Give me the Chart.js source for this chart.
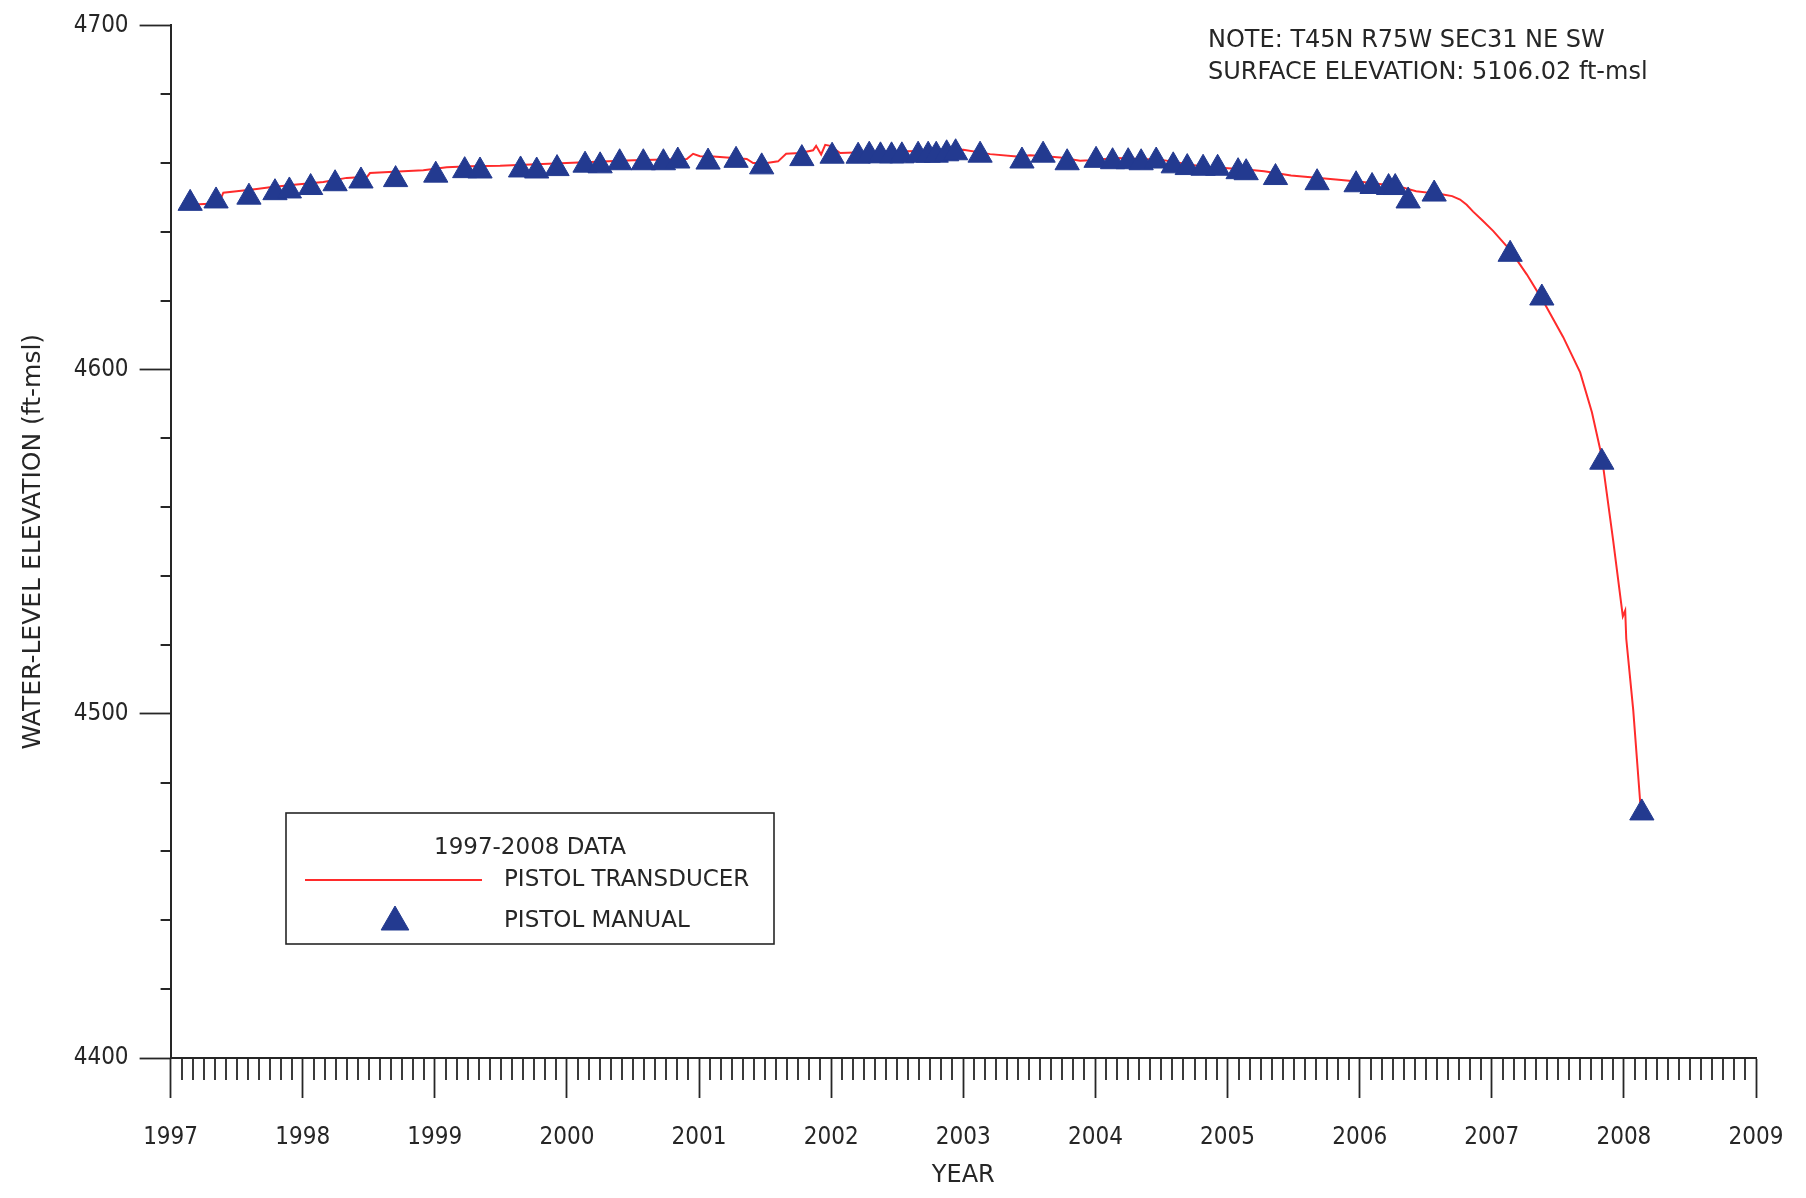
<!DOCTYPE html>
<html>
<head>
<meta charset="utf-8">
<title>Pistol well water-level elevation, 1997-2008</title>
<script src="https://cdn.jsdelivr.net/npm/chart.js@4.4.1/dist/chart.umd.min.js"></script>
<style>
  html, body { margin: 0; padding: 0; background: #ffffff; }
  #wrap { width: 1806px; height: 1198px; }
</style>
</head>
<body>
<div id="wrap"><canvas id="chart" width="1806" height="1198"></canvas></div>
<script>
// Manual (steel tape) measurements: decimal year and water-level elevation (ft-msl)
const manualYears = [
  1997.148, 1997.344, 1997.593, 1997.790, 1997.899, 1998.060, 1998.245, 1998.441,
  1998.703, 1999.007, 1999.226, 1999.342, 1999.649, 1999.771, 1999.925, 2000.137,
  2000.251, 2000.399, 2000.578, 2000.730, 2000.839, 2001.068, 2001.280, 2001.474,
  2001.778, 2002.007, 2002.204, 2002.288, 2002.373, 2002.457, 2002.535, 2002.658,
  2002.734, 2002.795, 2002.874, 2002.942, 2003.127, 2003.444, 2003.604, 2003.786,
  2004.005, 2004.130, 2004.248, 2004.346, 2004.460, 2004.589, 2004.695, 2004.815,
  2004.925, 2005.080, 2005.141, 2005.363, 2005.678, 2005.973, 2006.094, 2006.219,
  2006.269, 2006.367, 2006.564, 2007.139, 2007.379, 2007.833, 2008.136
];
const manualLevels = [
  4648.3, 4649.0, 4650.1, 4651.4, 4651.9, 4652.9, 4654.0, 4654.8,
  4655.2, 4656.5, 4657.8, 4657.7, 4658.0, 4657.7, 4658.4, 4659.4,
  4659.2, 4660.1, 4660.1, 4660.1, 4660.6, 4660.3, 4660.8, 4658.9,
  4661.3, 4662.0, 4662.0, 4662.3, 4662.1, 4662.1, 4662.1, 4662.3,
  4662.3, 4662.3, 4662.7, 4663.0, 4662.3, 4660.6, 4662.3, 4660.1,
  4660.8, 4660.4, 4660.4, 4660.1, 4660.6, 4659.2, 4658.7, 4658.5,
  4658.5, 4657.5, 4657.2, 4655.8, 4654.3, 4653.7, 4653.2, 4652.9,
  4652.9, 4649.0, 4651.0, 4633.5, 4620.8, 4573.1, 4471.2
];

// Pressure transducer record: decimal year and water-level elevation (ft-msl)
const transducerYears = [
  1997.180, 1997.366, 1997.399, 1997.500, 1997.652, 1997.752, 1997.955, 1998.156,
  1998.333, 1998.487, 1998.509, 1998.762, 1998.913, 1999.090, 1999.267, 1999.494,
  1999.998, 2000.503, 2000.907, 2000.955, 2001.007, 2001.108, 2001.361, 2001.409,
  2001.513, 2001.598, 2001.659, 2001.765, 2001.863, 2001.886, 2001.924, 2001.955,
  2001.992, 2002.068, 2002.295, 2002.673, 2003.001, 2003.203, 2003.405, 2003.506,
  2003.619, 2003.733, 2003.884, 2003.960, 2004.162, 2004.490, 2004.806, 2005.144,
  2005.277, 2005.481, 2005.820, 2006.023, 2006.291, 2006.427, 2006.563, 2006.631,
  2006.700, 2006.760, 2006.810, 2006.859, 2006.930, 2007.010, 2007.139, 2007.266,
  2007.389, 2007.540, 2007.669, 2007.758, 2007.833, 2007.919, 2007.992, 2008.010,
  2008.018, 2008.071, 2008.124
];
const transducerLevels = [
  4648.0, 4648.3, 4651.4, 4651.8, 4652.5, 4653.0, 4653.8, 4654.5,
  4655.7, 4656.0, 4657.1, 4657.6, 4657.9, 4658.8, 4659.1, 4659.2,
  4660.0, 4660.8, 4661.2, 4662.7, 4662.0, 4661.9, 4661.2, 4660.0,
  4660.0, 4660.5, 4662.7, 4662.9, 4663.7, 4665.0, 4662.5, 4665.3,
  4665.0, 4662.9, 4663.2, 4663.5, 4663.9, 4662.6, 4661.9, 4662.3,
  4662.0, 4661.6, 4660.7, 4660.8, 4661.5, 4661.0, 4659.0, 4658.1,
  4657.6, 4656.4, 4655.2, 4654.5, 4653.3, 4651.8, 4651.2, 4650.9,
  4650.4, 4649.4, 4647.9, 4645.9, 4643.3, 4640.3, 4634.7, 4627.6,
  4619.9, 4609.5, 4599.2, 4587.6, 4574.7, 4550.3, 4528.3, 4530.0,
  4521.8, 4501.0, 4474.0
];

// Axis ranges and tick spacing
const yearMin = 1997, yearMax = 2009, yearStep = 1, monthsPerYear = 12;
const levelMin = 4400, levelMax = 4700, levelStep = 100, levelMinorStep = 20;

// Text
const xTitle = 'YEAR';
const yTitle = 'WATER-LEVEL ELEVATION (ft-msl)';
const noteLines = ['NOTE: T45N R75W SEC31 NE SW', 'SURFACE ELEVATION: 5106.02 ft-msl'];
const legendTitle = '1997-2008 DATA';
const transducerLabel = 'PISTOL TRANSDUCER';
const manualLabel = 'PISTOL MANUAL';

const NUM_FONT = '"DejaVu Sans Condensed", "DejaVu Sans", sans-serif';
const TEXT_FONT = '"DejaVu Sans", sans-serif';
const INK = '#262626';
const RED = '#ff2b2b';
const NAVY = '#233a90';

const manualPoints = manualYears.map((x, i) => ({ x, y: manualLevels[i] }));
const transducerPoints = transducerYears.map((x, i) => ({ x, y: transducerLevels[i] }));

// Short unlabelled ticks: monthly on the year axis, every 20 ft on the elevation axis
const minorTicks = {
  id: 'minorTicks',
  afterDraw(chart) {
    const { ctx, scales: { x, y } } = chart;
    ctx.save();
    ctx.strokeStyle = INK;
    ctx.lineWidth = 1.8;
    ctx.beginPath();
    const months = (yearMax - yearMin) * monthsPerYear;
    for (let m = 1; m < months; m++) {
      if (m % monthsPerYear === 0) continue;
      const px = Math.round(x.getPixelForValue(yearMin + m / monthsPerYear));
      ctx.moveTo(px, y.bottom);
      ctx.lineTo(px, y.bottom + 22);
    }
    for (let v = levelMin + levelMinorStep; v < levelMax; v += levelMinorStep) {
      if (v % levelStep === 0) continue;
      const py = Math.round(y.getPixelForValue(v));
      ctx.moveTo(x.left, py);
      ctx.lineTo(x.left - 10, py);
    }
    ctx.stroke();
    ctx.restore();
  }
};

// Location note in the upper right
const notePlugin = {
  id: 'noteText',
  afterDraw(chart) {
    const { ctx } = chart;
    ctx.save();
    ctx.fillStyle = INK;
    ctx.font = '24px ' + TEXT_FONT;
    ctx.textAlign = 'left';
    ctx.textBaseline = 'middle';
    ctx.fillText(noteLines[0], 1208, 41);
    ctx.fillText(noteLines[1], 1208, 73);
    ctx.restore();
  }
};

// Boxed legend in the lower left of the plot
const boxLegend = {
  id: 'boxLegend',
  afterDraw(chart) {
    const { ctx } = chart;
    const pts = chart.data.datasets[0];
    const line = chart.data.datasets[1];
    ctx.save();
    ctx.fillStyle = '#ffffff';
    ctx.fillRect(286, 813, 488, 131);
    ctx.strokeStyle = INK;
    ctx.lineWidth = 1.6;
    ctx.strokeRect(286, 813, 488, 131);

    ctx.fillStyle = INK;
    ctx.font = '23px ' + TEXT_FONT;
    ctx.textBaseline = 'middle';
    ctx.textAlign = 'center';
    ctx.fillText(legendTitle, 530, 848);

    ctx.strokeStyle = line.borderColor;
    ctx.lineWidth = line.borderWidth;
    ctx.beginPath();
    ctx.moveTo(305, 880);
    ctx.lineTo(482, 880);
    ctx.stroke();

    ctx.fillStyle = pts.backgroundColor;
    ctx.strokeStyle = pts.borderColor;
    ctx.lineWidth = 1;
    Chart.helpers.drawPoint(ctx, {
      pointStyle: 'triangle', radius: 16, borderWidth: 1, rotation: 0
    }, 395, 922);

    ctx.fillStyle = INK;
    ctx.textAlign = 'left';
    ctx.fillText(line.label, 504, 880);
    ctx.fillText(pts.label, 504, 921);
    ctx.restore();
  }
};

new Chart(document.getElementById('chart'), {
  type: 'scatter',
  data: {
    datasets: [
      {
        label: manualLabel,
        data: manualPoints,
        pointStyle: 'triangle',
        pointRadius: 14,
        pointHoverRadius: 14,
        backgroundColor: NAVY,
        borderColor: NAVY,
        borderWidth: 1,
        showLine: false
      },
      {
        label: transducerLabel,
        data: transducerPoints,
        showLine: true,
        borderColor: RED,
        backgroundColor: RED,
        borderWidth: 2,
        pointRadius: 0,
        pointHoverRadius: 0,
        tension: 0
      }
    ]
  },
  options: {
    responsive: false,
    animation: false,
    devicePixelRatio: 1,
    layout: { padding: { left: 18, right: 50, top: 20, bottom: 8 } },
    plugins: {
      legend: { display: false },
      tooltip: { enabled: false }
    },
    scales: {
      x: {
        type: 'linear',
        min: yearMin,
        max: yearMax,
        afterFit(scale) {
          scale.height = 132;
          scale.paddingLeft = 0;
          scale.paddingRight = 0;
        },
        ticks: {
          stepSize: yearStep,
          autoSkip: false,
          maxRotation: 0,
          padding: 25,
          color: INK,
          font: { family: NUM_FONT, size: 24 },
          callback: (v) => String(v)
        },
        grid: {
          drawOnChartArea: false,
          drawTicks: true,
          tickLength: 40,
          tickColor: INK,
          tickWidth: 1.8
        },
        border: { display: true, color: INK, width: 2 },
        title: {
          display: true,
          text: xTitle,
          color: INK,
          font: { family: TEXT_FONT, size: 24 },
          padding: 0
        }
      },
      y: {
        type: 'linear',
        min: levelMin,
        max: levelMax,
        afterFit(scale) { scale.width = 152.6; },
        ticks: {
          stepSize: levelStep,
          padding: 11,
          color: INK,
          font: { family: NUM_FONT, size: 24 },
          callback: (v) => String(v)
        },
        grid: {
          drawOnChartArea: false,
          drawTicks: true,
          tickLength: 31,
          tickColor: INK,
          tickWidth: 1.8
        },
        border: { display: true, color: INK, width: 2 },
        title: {
          display: true,
          text: yTitle,
          color: INK,
          font: { family: TEXT_FONT, size: 25 },
          padding: 0
        }
      }
    }
  },
  plugins: [minorTicks, notePlugin, boxLegend]
});
</script>
</body>
</html>
